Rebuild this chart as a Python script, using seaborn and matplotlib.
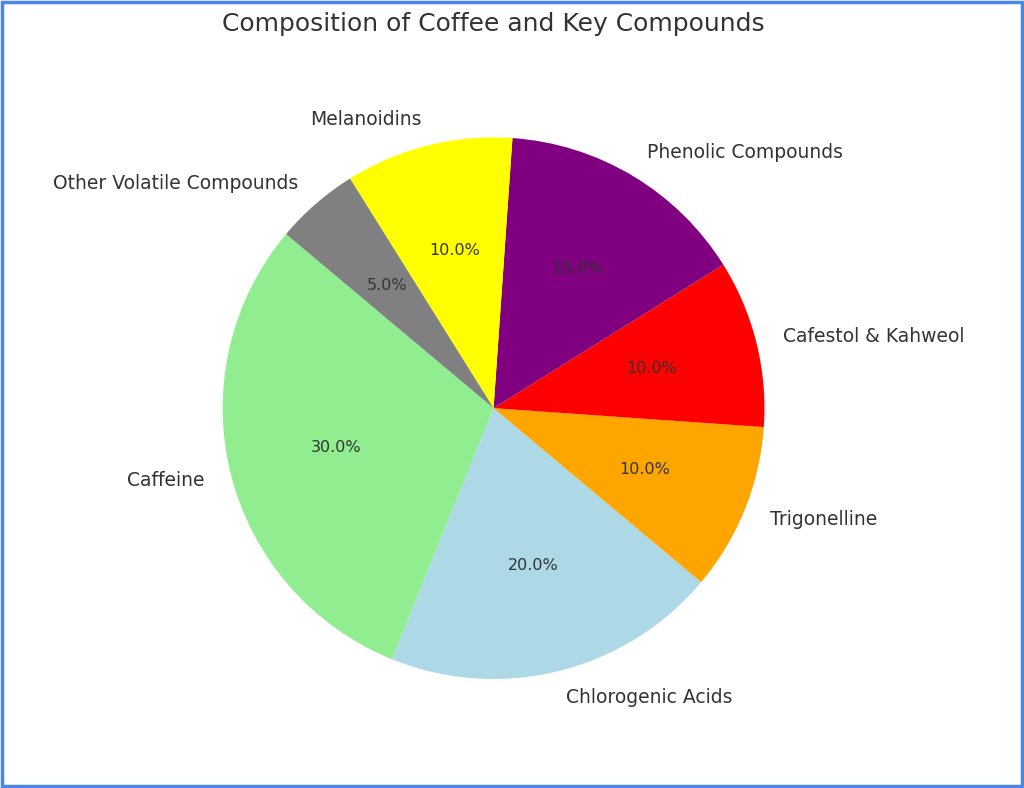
import matplotlib
matplotlib.use('Agg')
import matplotlib.pyplot as plt
import seaborn as sns
from matplotlib.patches import Rectangle

sns.set_theme(style='white')
plt.rcParams['font.family'] = ['DejaVu Sans']

labels = ['Caffeine', 'Chlorogenic Acids', 'Trigonelline', 'Cafestol & Kahweol',
          'Phenolic Compounds', 'Melanoidins', 'Other Volatile Compounds']
sizes = [30, 20, 10, 10, 15, 10, 5]
colors = ['lightgreen', 'lightblue', 'orange', 'red', 'purple', 'yellow', 'gray']

fig = plt.figure(figsize=(10.24, 7.88), dpi=100)
ax = fig.add_axes([0.191, 0.104, 0.582, 0.756])
wedges, texts, autotexts = ax.pie(sizes, labels=labels, colors=colors, autopct='%1.1f%%',
                                  startangle=140, wedgeprops={'linewidth': 0},
                                  textprops={'fontsize': 13.5, 'color': '#333333'})
for t in autotexts:
    t.set_fontsize(11.5)
ax.axis('equal')
fig.suptitle('Composition of Coffee and Key Compounds', fontsize=18, color='#333333',
             x=0.482, y=0.985)

fig.patches.append(Rectangle((0.002, 0.002), 0.996, 0.996, transform=fig.transFigure,
                             fill=False, edgecolor='#4a86e8', linewidth=2.5))
fig.savefig('out.png', dpi=100)
